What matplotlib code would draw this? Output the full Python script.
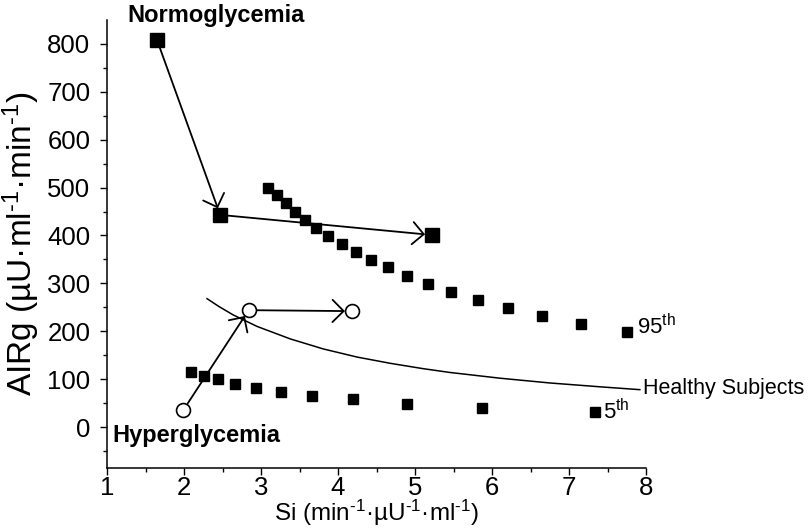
import numpy as np
import matplotlib
matplotlib.use("Agg")
import matplotlib.pyplot as plt

plt.rcParams['font.family'] = ['Liberation Sans', 'DejaVu Sans']
plt.rcParams['mathtext.fontset'] = 'custom'
plt.rcParams['mathtext.rm'] = 'Liberation Sans'
plt.rcParams['mathtext.it'] = 'Liberation Sans:italic'
plt.rcParams['mathtext.bf'] = 'Liberation Sans:bold'

# 95th percentile (squares, upper row)
p95_si = [3.09, 3.21, 3.32, 3.44, 3.57, 3.71, 3.87, 4.05, 4.23, 4.43,
          4.65, 4.90, 5.17, 5.47, 5.82, 6.21, 6.65, 7.16, 7.75]
p95_airg = [499, 484, 468, 449, 432, 415, 399, 382, 365, 349,
            334, 315, 299, 282, 265, 248, 232, 215, 198]

# 5th percentile (squares, lower row)
p5_si = [2.09, 2.26, 2.44, 2.66, 2.93, 3.26, 3.66, 4.19, 4.90, 5.87, 7.34]
p5_airg = [115, 106, 100, 90, 82, 73, 65, 58, 48, 40, 31]

# healthy subjects curve
healthy_si = [2.30, 2.45, 2.64, 2.95, 3.38, 3.81, 4.25, 4.68, 5.10, 5.45,
              6.10, 6.75, 7.40, 7.92]
healthy_airg = [268, 252, 234, 210, 184, 163, 146, 133, 122, 114,
                102, 92, 84, 78]

# trajectories
normo_si = [1.65, 2.47, 5.22]
normo_airg = [808, 443, 401]
hyper_si = [1.99, 2.84, 4.18]
hyper_airg = [35, 244, 242]

fig = plt.figure(figsize=(8.1, 5.29), dpi=100)
ax = fig.add_axes([107 / 810, 61 / 529, 539 / 810, 448 / 529])

ax.plot(p95_si, p95_airg, 's', color='black', ms=7.5, ls='none')
ax.plot(p5_si, p5_airg, 's', color='black', ms=7.5, ls='none')
ax.plot(healthy_si, healthy_airg, '-', color='black', lw=1.1)
ax.plot(normo_si, normo_airg, 's', color='black', ms=10, ls='none')
ax.plot(hyper_si, hyper_airg, 'o', mfc='white', mec='black', mew=1.2,
        ms=10, ls='none')

arrow = dict(arrowstyle='->,head_length=0.4,head_width=0.4', lw=1.3,
             color='black', shrinkA=6, shrinkB=5, mutation_scale=20)
for si, ag in [(normo_si, normo_airg), (hyper_si, hyper_airg)]:
    for i in range(len(si) - 1):
        ax.annotate('', xy=(si[i + 1], ag[i + 1]), xytext=(si[i], ag[i]),
                    arrowprops=arrow)

ax.text(1.27, 845, 'Normoglycemia', fontsize=17, fontweight='bold',
        va='baseline', clip_on=False)
ax.text(1.065, -31, 'Hyperglycemia', fontsize=17, fontweight='bold',
        va='baseline')
ax.text(7.96, 69, 'Healthy Subjects', fontsize=15.5, va='baseline',
        clip_on=False)
ax.text(7.88, 194, r'95$^{\mathrm{th}}$', fontsize=16, va='baseline',
        clip_on=False)
ax.text(7.44, 17, r'5$^{\mathrm{th}}$', fontsize=16, va='baseline',
        clip_on=False)

ax.set_xlim(1, 8)
ax.set_ylim(-85.6, 850)
ax.set_xticks(range(1, 9))
ax.set_xticks(np.arange(1.5, 8, 1), minor=True)
ax.set_yticks(range(0, 801, 100))
ax.set_yticks(np.arange(-50, 850, 100), minor=True)

for side in ['top', 'right']:
    ax.spines[side].set_visible(False)
for side in ['left', 'bottom']:
    ax.spines[side].set_linewidth(1.1)

ax.tick_params(which='major', direction='out', length=5, width=1.0,
               labelsize=18.5)
ax.tick_params(which='minor', direction='out', length=3, width=1.0)
ax.tick_params(axis='y', pad=7)
ax.tick_params(axis='x', pad=0.5)

ax.set_xlabel(r'Si (min$^{\text{-1}}$·µU$^{\text{-1}}$·ml$^{\text{-1}}$)',
              fontsize=17.5, labelpad=-1)
ax.set_ylabel(r'AIRg (µU·ml$^{\text{-1}}$·min$^{\text{-1}}$)', fontsize=24,
              labelpad=4)

fig.savefig('out.png', dpi=100)
